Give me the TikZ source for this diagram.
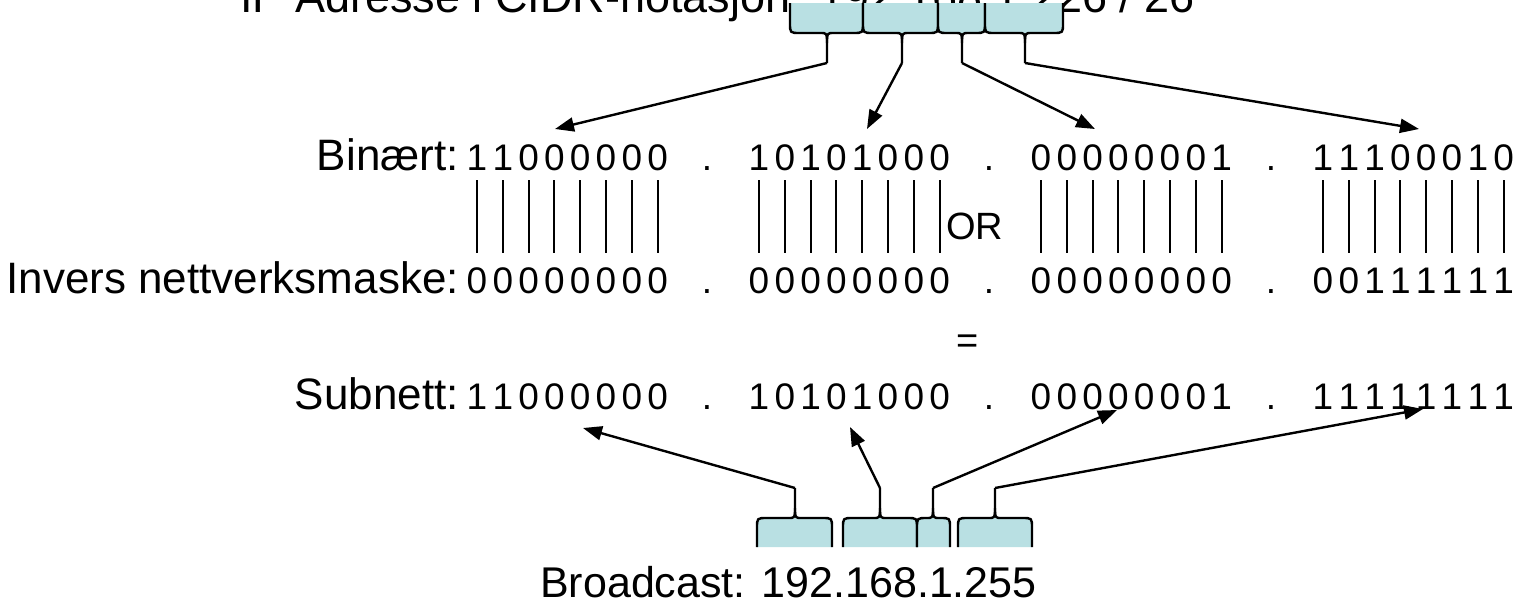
\documentclass[tikz,border=0pt]{standalone}
\usepackage{fontspec}
\setmainfont{Liberation Sans}
\usetikzlibrary{arrows.meta}
\definecolor{boxfill}{RGB}{185,224,227}
\newcommand{\lblfont}{\fontsize{44}{50}\selectfont}
\newcommand{\bitfont}{\fontsize{37}{42}\selectfont}
\newcommand{\midfont}{\fontsize{38}{44}\selectfont}
\newcommand{\bcfont}{\fontsize{43}{48}\selectfont}
\newcommand{\titfont}{\fontsize{45}{50}\selectfont}
% top brace: xl, xr, xs (stem), coordinate name
\newcommand{\topbrace}[4]{%
  \fill[boxfill] (#1,3) -- (#1,23) .. controls (#1,33) .. ({#1+10},33) -- ({#2-10},33) .. controls (#2,33) .. (#2,23) -- (#2,3) -- cycle;
  \draw[bracel] (#1,3) -- (#1,23) .. controls (#1,33) .. ({#1+10},33) -- ({#3-7},33) .. controls (#3,33) .. (#3,43) -- (#3,63) coordinate (#4);
  \draw[bracel] (#3,43) .. controls (#3,33) .. ({#3+7},33) -- ({#2-10},33) .. controls (#2,33) .. (#2,23) -- (#2,3);
}
% bottom brace: xl, xr, xs (stem), coordinate name
\newcommand{\botbrace}[4]{%
  \fill[boxfill] (#1,547) -- (#1,528) .. controls (#1,518) .. ({#1+10},518) -- ({#2-10},518) .. controls (#2,518) .. (#2,528) -- (#2,547) -- cycle;
  \draw[bracel] (#1,547) -- (#1,528) .. controls (#1,518) .. ({#1+10},518) -- ({#3-7},518) .. controls (#3,518) .. (#3,508) -- (#3,488) coordinate (#4);
  \draw[bracel] (#3,508) .. controls (#3,518) .. ({#3+7},518) -- ({#2-10},518) .. controls (#2,518) .. (#2,528) -- (#2,547);
}
\begin{document}
\begin{tikzpicture}[x=1pt,y=-1pt,
  lbl/.style={anchor=base east, inner sep=0pt, font=\lblfont},
  bit/.style={anchor=base, inner sep=0pt, font=\bitfont, text height=27pt, text depth=0pt},
  conn/.style={line width=2.4pt, -{Triangle[length=19pt,width=14pt]}},
  bar/.style={line width=2pt},
  bracel/.style={draw=black, line width=2.4pt, line join=round},
]
\useasboundingbox (0,0) rectangle (1519,606);

% title (cut off at the top, as in the original)
\node[anchor=base west, inner sep=0pt, font=\titfont] (title) at (240,12) {IP Adresse i CIDR-notasjon: 192.168.1.226 / 26};

% row labels
\node[lbl] (lb) at (459,170) {Binært:};
\node[lbl] (li) at (459,293) {Invers nettverksmaske:};
\node[lbl] (ls) at (459,409) {Subnett:};

% bits
\foreach \g/\digs in {0/{1,1,0,0,0,0,0,0},1/{1,0,1,0,1,0,0,0},2/{0,0,0,0,0,0,0,1},3/{1,1,1,0,0,0,1,0}}{
  \foreach \d [count=\k from 0] in \digs {
    \node[bit] (b-\g-\k) at ({477+282*\g+25.8*\k},170) {\d};
  }
}
\foreach \g/\digs in {0/{0,0,0,0,0,0,0,0},1/{0,0,0,0,0,0,0,0},2/{0,0,0,0,0,0,0,0},3/{0,0,1,1,1,1,1,1}}{
  \foreach \d [count=\k from 0] in \digs {
    \node[bit] (i-\g-\k) at ({477+282*\g+25.8*\k},293) {\d};
  }
}
\foreach \g/\digs in {0/{1,1,0,0,0,0,0,0},1/{1,0,1,0,1,0,0,0},2/{0,0,0,0,0,0,0,1},3/{1,1,1,1,1,1,1,1}}{
  \foreach \d [count=\k from 0] in \digs {
    \node[bit] (s-\g-\k) at ({477+282*\g+25.8*\k},409) {\d};
  }
}
% dots between octets
\foreach \g in {0,1,2}{
  \node[bit] (db-\g) at ({707+282*\g},170) {.};
  \node[bit] (di-\g) at ({707+282*\g},293) {.};
  \node[bit] (ds-\g) at ({707+282*\g},409) {.};
}

% vertical OR bars
\foreach \g in {0,1,2,3}{
  \foreach \k in {0,...,7}{
    \draw[bar] ([yshift=-10pt]b-\g-\k.south) -- ([yshift=13pt]i-\g-\k.north);
  }
}

\node[anchor=base west, inner sep=0pt, font=\midfont] (or) at (946,239) {OR};
\node[anchor=base, inner sep=0pt, font=\midfont] (eq) at (968,353) {=};

% top braces
\topbrace{790}{863}{827}{ts1}
\topbrace{863}{938}{902}{ts2}
\topbrace{938}{985}{962}{ts3}
\topbrace{985}{1063}{1025}{ts4}

% bottom braces
\botbrace{757}{832}{795}{bs1}
\botbrace{843}{917}{880}{bs2}
\botbrace{917}{950}{933}{bs3}
\botbrace{958}{1032}{995}{bs4}

% arrow targets
\coordinate (tt1) at (555,129);
\coordinate (tt2) at (867,129);
\coordinate (tt3) at (1095,129);
\coordinate (tt4) at (1419,129);
\coordinate (bt1) at (583,428);
\coordinate (bt2) at (850,427);
\coordinate (bt3) at (1117,410);
\coordinate (bt4) at (1423,409);

\draw[conn] (ts1) -- (tt1);
\draw[conn] (ts2) -- (tt2);
\draw[conn] (ts3) -- (tt3);
\draw[conn] (ts4) -- (tt4);
\draw[conn] (bs1) -- (bt1);
\draw[conn] (bs2) -- (bt2);
\draw[conn] (bs3) -- (bt3);
\draw[conn] (bs4) -- (bt4);

\node[anchor=base west, inner sep=0pt, font=\bcfont] (bc) at (540,597) {Broadcast: 192.168.1.255};
\end{tikzpicture}
\end{document}
